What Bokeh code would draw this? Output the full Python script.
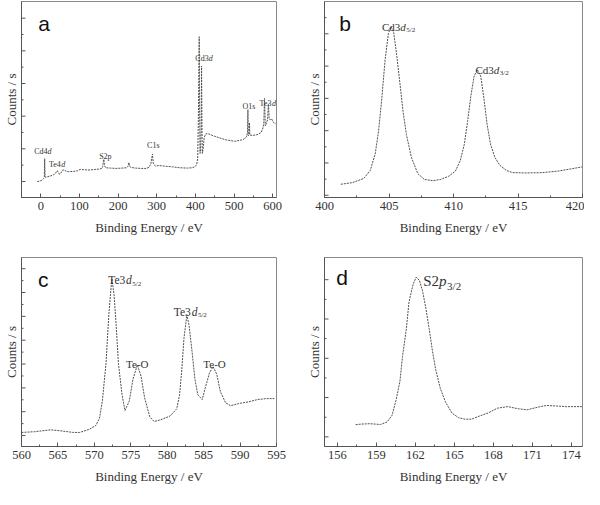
from bokeh.plotting import figure
from bokeh.layouts import row, column
from bokeh.models import Range1d, FixedTicker, Label
from bokeh.core.properties import value
from bokeh.embed import file_html
from bokeh.resources import INLINE

# ---------------- data ----------------
# (a) survey spectrum
a_energy = [-9, -3, 3, 7, 9, 10, 11, 14, 18, 25, 32, 38, 42, 45, 48, 52, 56, 60, 66, 72, 85, 95,
            102, 112, 125, 140, 152, 158, 160, 163, 165, 168, 180, 195, 210, 222, 226, 228, 230,
            234, 245, 260, 272, 280, 285, 289, 291, 294, 298, 305, 320, 340, 360, 380, 392, 398,
            403, 406, 408, 410, 411, 412, 413, 415, 416, 417, 418, 420, 423, 427, 434, 451, 477,
            502, 523, 532, 535, 536, 537, 539, 540, 541, 549, 562, 570, 574, 577, 579, 581, 583,
            587, 589, 591, 594, 597, 603, 608]
a_counts = [0.00, 0.01, 0.04, 0.09, 0.12, 0.70, 0.14, 0.13, 0.15, 0.17, 0.20, 0.25, 0.33, 0.30,
            0.22, 0.26, 0.34, 0.36, 0.31, 0.30, 0.31, 0.33, 0.37, 0.36, 0.35, 0.37, 0.38, 0.40,
            0.46, 0.68, 0.48, 0.42, 0.41, 0.40, 0.41, 0.42, 0.47, 0.58, 0.46, 0.43, 0.41, 0.40,
            0.40, 0.43, 0.55, 0.84, 0.56, 0.50, 0.47, 0.49, 0.47, 0.45, 0.42, 0.41, 0.42, 0.45,
            0.50, 0.70, 2.10, 4.43, 2.20, 0.86, 0.90, 1.60, 3.53, 1.80, 0.86, 1.00, 1.35, 1.46,
            1.46, 1.38, 1.28, 1.23, 1.28, 1.36, 1.50, 2.20, 1.40, 1.45, 1.80, 1.42, 1.41, 1.44,
            1.50, 1.60, 1.75, 2.54, 1.70, 1.75, 1.90, 2.37, 1.95, 1.88, 1.92, 1.80, 1.77]
a_xticks = [0, 100, 200, 300, 400, 500, 600]
a_xminor = [-50, 50, 150, 250, 350, 450, 550]
a_yticks = [0, 1, 2, 3, 4, 5]
a_yminor = [0.5, 1.5, 2.5, 3.5, 4.5]
a_lab_x = [-17, 21, 151, 275, 400, 522, 566]
a_lab_y = [0.93, 0.51, 0.78, 1.11, 3.75, 2.30, 2.40]
a_lab_main = ["Cd4", "Te4", "S2p", "C1s", "Cd3", "O1s", "Te3"]
a_lab_ital = ["d", "d", "", "", "d", "", "d"]

# (b) Cd 3d
b_energy = [401.27, 402.16, 403.05, 403.55, 403.93, 404.19, 404.44, 404.70, 404.95, 405.15,
            405.36, 405.58, 405.84, 406.09, 406.35, 406.73, 407.23, 407.74, 408.38, 409.01,
            409.64, 410.15, 410.53, 410.84, 411.09, 411.35, 411.60, 411.85, 412.11, 412.36,
            412.61, 412.87, 413.20, 413.58, 414.09, 414.59, 415.61, 416.88, 418.15, 419.16, 420.0]
b_counts = [0.34, 0.39, 0.52, 0.77, 1.28, 1.98, 2.99, 4.20, 5.00, 5.22, 5.05, 4.40, 3.49, 2.59,
            1.88, 1.18, 0.67, 0.49, 0.45, 0.49, 0.59, 0.75, 1.08, 1.58, 2.28, 3.09, 3.69, 3.89,
            3.69, 2.99, 2.18, 1.58, 1.18, 0.93, 0.77, 0.70, 0.69, 0.70, 0.75, 0.82, 0.88]
b_xticks = [400, 405, 410, 415, 420]
b_xminor = [402.5, 407.5, 412.5, 417.5]
b_yticks = [0, 1, 2, 3, 4, 5]
b_yminor = [0.5, 1.5, 2.5, 3.5, 4.5, 5.5]
b_lab_x = [404.45, 411.7]
b_lab_y = [5.22, 3.89]
b_lab_main = ["Cd3", "Cd3"]
b_lab_ital = ["d", "d"]
b_lab_sub = ["5/2", "3/2"]

# (c) Te 3d
c_energy = [560.0, 561.8, 564.0, 565.3, 567.1, 568.0, 569.3, 570.2, 570.7, 571.1, 571.6, 572.0,
            572.4, 572.7, 573.0, 573.3, 573.8, 574.2, 574.8, 575.3, 575.9, 576.4, 576.9, 577.6,
            578.2, 579.1, 580.4, 581.3, 581.7, 582.0, 582.3, 582.7, 583.0, 583.4, 583.8, 584.2,
            584.8, 585.2, 585.8, 586.3, 586.8, 587.3, 588.0, 588.7, 589.8, 591.1, 592.4, 593.6,
            594.7]
c_counts = [0.13, 0.16, 0.24, 0.20, 0.13, 0.13, 0.26, 0.42, 0.72, 1.45, 3.03, 5.13, 6.58, 5.92,
            4.61, 3.03, 1.71, 1.05, 1.45, 2.37, 2.96, 2.50, 1.58, 0.79, 0.59, 0.66, 0.82, 1.12,
            1.71, 2.76, 4.08, 5.07, 4.61, 3.55, 2.37, 1.71, 1.51, 1.97, 2.63, 2.89, 2.57, 1.84,
            1.38, 1.25, 1.34, 1.41, 1.51, 1.55, 1.55]
c_xticks = [560, 565, 570, 575, 580, 585, 590, 595]
c_xminor = [562.5, 567.5, 572.5, 577.5, 582.5, 587.5, 592.5]
c_yticks = [0, 1, 2, 3, 4, 5, 6, 7]
c_yminor = [0.5, 1.5, 2.5, 3.5, 4.5, 5.5, 6.5]
c_lab_x = [571.9, 580.9]
c_lab_y = [6.51, 5.20]
c_lab_main = ["Te3", "Te3"]
c_lab_ital = ["d", "d"]
c_lab_sub = ["5/2", "5/2"]
c_oxide_x = [575.9, 586.5]
c_oxide_y = [3.02, 3.02]
c_oxide_text = ["Te-O", "Te-O"]

# (d) S 2p
d_energy = [157.4, 157.8, 158.5, 159.3, 159.8, 160.2, 160.5, 160.8, 161.0, 161.3, 161.5, 161.8,
            162.05, 162.3, 162.55, 162.8, 163.05, 163.3, 163.55, 163.9, 164.3, 164.8, 165.3,
            165.8, 166.3, 166.8, 167.6, 168.3, 169.1, 169.9, 170.6, 171.4, 172.1, 172.9, 173.6,
            174.8]
d_counts = [0.62, 0.65, 0.67, 0.63, 0.75, 1.10, 1.86, 2.81, 4.08, 5.51, 6.86, 7.73, 8.13, 7.97,
            7.41, 6.54, 5.51, 4.40, 3.44, 2.49, 1.78, 1.22, 0.98, 0.90, 0.90, 1.03, 1.22, 1.46,
            1.54, 1.43, 1.38, 1.51, 1.60, 1.57, 1.54, 1.54]
d_xticks = [156, 159, 162, 165, 168, 171, 174]
d_xminor = [157.5, 160.5, 163.5, 166.5, 169.5, 172.5]
d_yticks = [0, 2, 4, 6, 8]
d_yminor = [1, 3, 5, 7]
d_lab_x = [162.6]
d_lab_y = [7.92]
d_lab_main = ["S2"]
d_lab_ital = ["p"]
d_lab_sub = ["3/2"]

# ---------------- styling helpers ----------------
SERIF = "Liberation Serif"
TXT = "#333333"
AX = "#555555"
ADV = {"C": .667, "d": .5, "T": .611, "e": .444, "S": .556, "p": .5, "O": .722, "s": .389,
       "-": .333, "/": .278}


def tw(s, size):
    return sum(ADV.get(ch, .5) for ch in s) * size


def make_fig(xr, yr, w, h, bl, br, bt, bb, xt, xm, yt, ym):
    p = figure(width=w, height=h, x_range=Range1d(*xr), y_range=Range1d(*yr),
               output_backend="svg", toolbar_location=None, title=None,
               min_border_left=bl, min_border_right=br, min_border_top=bt, min_border_bottom=bb)
    p.grid.visible = False
    p.outline_line_color = "#888888"
    p.outline_line_width = 1
    p.background_fill_color = "white"
    p.border_fill_color = "white"
    p.xaxis.ticker = FixedTicker(ticks=xt, minor_ticks=xm)
    p.yaxis.ticker = FixedTicker(ticks=[], minor_ticks=[])
    for ax in p.xaxis + p.yaxis:
        ax.axis_line_color = AX
        ax.major_tick_line_color = AX
        ax.minor_tick_line_color = AX
        ax.major_tick_in = 4
        ax.major_tick_out = 0
        ax.minor_tick_in = 2
        ax.minor_tick_out = 0
        ax.axis_label_text_font = SERIF
        ax.axis_label_text_font_style = "normal"
        ax.axis_label_text_color = TXT
        ax.axis_label_text_font_size = "13px"
        ax.major_label_text_font = SERIF
        ax.major_label_text_color = TXT
    p.xaxis.major_label_text_font_size = "12.5px"
    p.xaxis.major_label_standoff = 4
    p.xaxis.axis_label = "Binding Energy / eV"
    p.xaxis.axis_label_standoff = 7
    p.yaxis.major_label_standoff = 0
    p.yaxis.axis_label = "Counts / s"
    p.yaxis.axis_label_standoff = 3
    # inward y tick marks (the reference shows no y tick labels)
    p.scatter(x=[xr[0]] * len(yt), y=yt, marker="dash", size=8, line_color=AX, line_width=1)
    p.scatter(x=[xr[0]] * len(ym), y=ym, marker="dash", size=4, line_color=AX, line_width=1)
    return p


def letter(p, t, fx, fy):
    xr, yr = p.x_range, p.y_range
    p.add_layout(Label(x=xr.start + fx * (xr.end - xr.start),
                       y=yr.end - fy * (yr.end - yr.start),
                       text=t, text_font="Liberation Sans", text_font_size="21px",
                       text_color="#111111", text_baseline="alphabetic", text_align="left"))


def rich(p, xs, ys, main, ital, sub, size, subsize):
    common = dict(text_font=value(SERIF), text_color=TXT, text_baseline="alphabetic",
                  text_align="left")
    p.text(x=xs, y=ys, text=main, text_font_size=f"{size}px", **common)
    idx = [i for i, t in enumerate(ital) if t]
    off1 = [tw(main[i], size) for i in idx]
    p.text(x=[xs[i] for i in idx], y=[ys[i] for i in idx], text=[ital[i] for i in idx],
           x_offset=off1, text_font_size=f"{size}px", text_font_style="italic", **common)
    if sub is not None:
        off2 = [o + tw(ital[i], size) + 0.5 for o, i in zip(off1, idx)]
        p.text(x=[xs[i] for i in idx], y=[ys[i] for i in idx], text=[sub[i] for i in idx],
               x_offset=off2, y_offset=[size * 0.3] * len(idx),
               text_font_size=f"{subsize}px", **common)


LINE = dict(line_color="#505050", line_width=1, line_dash="2 1")

WL, WR = 300, 284
H1, H2 = 246, 243

# (a)
pa = make_fig((-50, 610), (-0.49, 5.51), WL, H1, 20, 24, 1, 49,
              a_xticks, a_xminor, a_yticks, a_yminor)
pa.line(a_energy, a_counts, **LINE)
rich(pa, a_lab_x, a_lab_y, a_lab_main, a_lab_ital, None, 8, 6)
letter(pa, "a", 0.066, 0.11)

# (b)
pb = make_fig((400, 420), (-0.07, 6.0), WR, H1, 24, 2, 1, 49,
              b_xticks, b_xminor, b_yticks, b_yminor)
pb.line(b_energy, b_counts, **LINE)
rich(pb, b_lab_x, b_lab_y, b_lab_main, b_lab_ital, b_lab_sub, 11, 7)
letter(pb, "b", 0.057, 0.11)

# (c)
pc = make_fig((560, 595), (-0.46, 7.47), WL, H2, 20, 24, 11, 43,
              c_xticks, c_xminor, c_yticks, c_yminor)
pc.line(c_energy, c_counts, **LINE)
rich(pc, c_lab_x, c_lab_y, c_lab_main, c_lab_ital, c_lab_sub, 11.5, 7)
pc.text(x=c_oxide_x, y=c_oxide_y, text=c_oxide_text, text_font=value(SERIF), text_color=TXT,
        text_font_size="11px", text_align="center", text_baseline="alphabetic")
letter(pc, "c", 0.065, 0.114)

# (d)
pd_ = make_fig((155.0, 174.85), (-0.49, 9.13), WR, H2, 24, 2, 11, 43,
               d_xticks, d_xminor, d_yticks, d_yminor)
pd_.line(d_energy, d_counts, **LINE)
rich(pd_, d_lab_x, d_lab_y, d_lab_main, d_lab_ital, d_lab_sub, 15, 11)
letter(pd_, "d", 0.046, 0.104)

layout = column(row(pa, pb), row(pc, pd_))
open("out.html", "w").write(file_html(layout, INLINE))
